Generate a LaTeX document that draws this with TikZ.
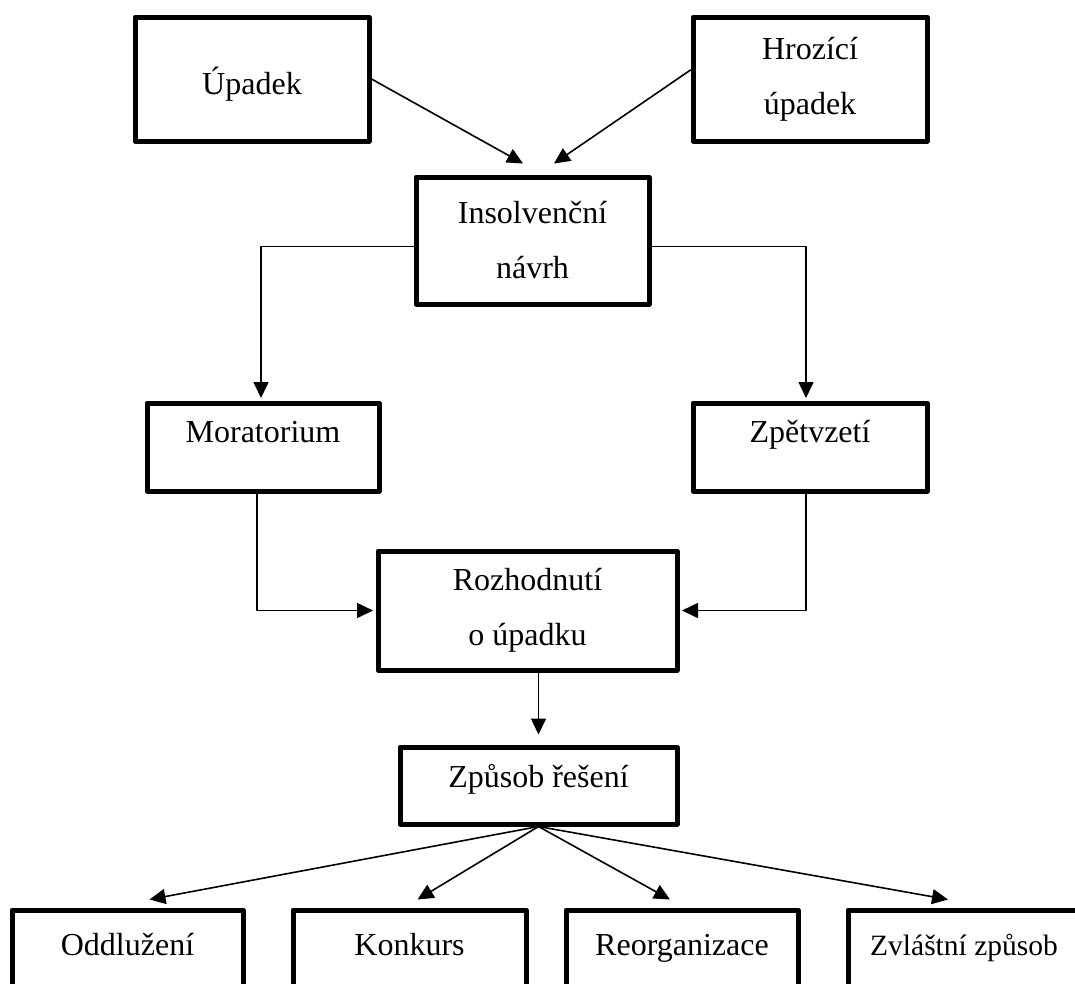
\documentclass[tikz,border=0pt]{standalone}
\usepackage{fontspec}
\setmainfont{Liberation Serif}
\usetikzlibrary{arrows.meta,calc}
\begin{document}
\begin{tikzpicture}[x=1pt, y=-1pt, line join=round, line cap=round,
		box/.style={draw, line width=5pt, inner sep=0pt, font=\fontsize{32}{55}\selectfont},
		one/.style={text height=22pt, text depth=32pt},
		two/.style={align=center},
		arr/.style={line width=1.6pt, -{Triangle[length=16pt, width=15pt]}}]
		\useasboundingbox (0,0) rectangle (1075,983);
		\clip (0,0) rectangle (1075,983);
		\node[box, minimum width=234pt, minimum height=124pt, text height=30pt, text depth=0pt] (upadek) at (252,79) {Úpadek};
		\node[box, two, minimum width=234pt, minimum height=124pt] (hroz) at (810,79) {Hrozící\\úpadek};
		\node[box, two, minimum width=233pt, minimum height=127pt] (insol) at (532.5,240.5) {Insolvenční\\návrh};
		\node[box, one, minimum width=232pt, minimum height=88pt] (morat) at (263,447) {Moratorium};
		\node[box, one, minimum width=234pt, minimum height=88pt] (zpet) at (810,447) {Zpětvzetí};
		\node[box, two, minimum width=299pt, minimum height=119pt] (rozh) at (527.5,610.5) {Rozhodnutí\\o úpadku};
		\node[box, minimum width=277pt, minimum height=77pt, text height=22pt, text depth=19pt] (zpus) at (538.5,785.5) {Způsob řešení};
		\node[box, one, minimum width=231pt, minimum height=100pt] (oddl) at (127.5,960) {Oddlužení};
		\node[box, one, minimum width=233pt, minimum height=100pt] (konk) at (409.5,960) {Konkurs};
		\node[box, one, minimum width=232pt, minimum height=100pt] (reorg) at (682,960) {Reorganizace};
		\node[box, one, minimum width=232pt, minimum height=100pt, font=\fontsize{29.5}{55}\selectfont] (zvl) at (964,960) {Zvláštní způsob};
		\draw[arr] (upadek.east) -- ($(insol.north)+(-9.5,-11)$);
		\draw[arr] ($(hroz.west)+(0,-9)$) -- ($(insol.north)+(21.5,-11)$);
		\draw[arr, shorten >=2.5pt] ($(insol.west)+(0,6)$) -| ($(morat.north)+(-2,0)$);
		\draw[arr, shorten >=2.5pt] ($(insol.east)+(0,6)$) -| ($(zpet.north)+(-4,0)$);
		\draw[arr, shorten >=2.5pt] ($(morat.south)+(-6,0)$) |- (rozh.west);
		\draw[arr, shorten >=2.5pt] ($(zpet.south)+(-4,0)$) |- (rozh.east);
		\draw[arr] (zpus.north |- rozh.south) -- ($(zpus.north)+(0,-10)$);
		\draw[arr] (zpus.south) -- ($(oddl.north)+(22,-8)$);
		\draw[arr] (zpus.south) -- ($(konk.north)+(8,-8)$);
		\draw[arr] (zpus.south) -- ($(reorg.north)+(-12,-8)$);
		\draw[arr] (zpus.south) -- ($(zvl.north)+(-16,-8)$);
\end{tikzpicture}
\end{document}
